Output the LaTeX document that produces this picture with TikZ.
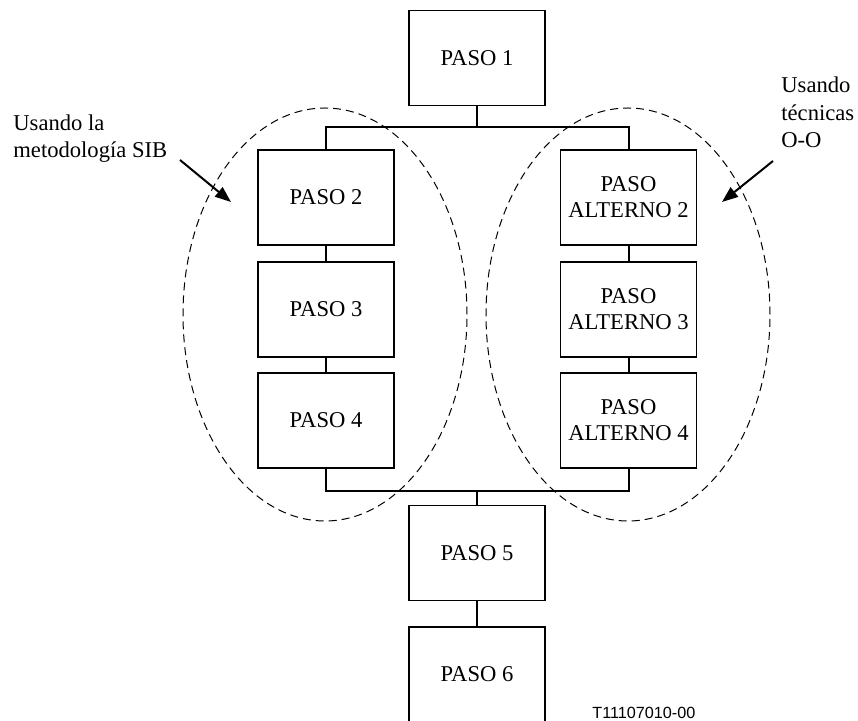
\documentclass[tikz,border=0pt]{standalone}
\usepackage{fontspec}
\setmainfont{Liberation Serif}
\newfontfamily\codefont{Liberation Sans}
\usetikzlibrary{arrows.meta}
\tikzset{
	stepbox/.style={draw,line width=0.6pt,minimum width=68pt,minimum height=47.5pt,inner sep=0pt,align=center,font=\fontsize{11.3}{13}\selectfont},
	link/.style={line width=1pt},
	group/.style={dash pattern=on 4pt off 2.5pt,line width=0.5pt},
	note/.style={align=left,inner sep=0pt,font=\fontsize{11.3}{13.9}\selectfont},
	pointer/.style={line width=1pt,-{Triangle[length=8pt,width=6pt]}}
}
\begin{document}
\begin{tikzpicture}[x=0.5pt,y=-0.5pt]
	\useasboundingbox (0,0) rectangle (858,721);
	\node [stepbox] (p1) at (477,58) {PASO 1};
	\node [stepbox] (p2) at (326,197.5) {PASO 2};
	\node [stepbox] (p3) at (326,309.5) {PASO 3};
	\node [stepbox] (p4) at (326,420.5) {PASO 4};
	\node [stepbox] (a2) at (628.5,197.5) {PASO\\ALTERNO 2};
	\node [stepbox] (a3) at (628.5,309.5) {PASO\\ALTERNO 3};
	\node [stepbox] (a4) at (628.5,420.5) {PASO\\ALTERNO 4};
	\node [stepbox] (p5) at (477,553) {PASO 5};
	\node [stepbox] (p6) at (477,674.5) {PASO 6};

	\coordinate (topbus) at (0,127);
	\coordinate (botbus) at (0,491);
	\draw [link] (p1.south) -- (p1.south |- topbus);
	\draw [link] (p2.north) |- (a2.north |- topbus) -- (a2.north);
	\draw [link] (p2) -- (p3);
	\draw [link] (p3) -- (p4);
	\draw [link] (a2) -- (a3);
	\draw [link] (a3) -- (a4);
	\draw [link] (p4.south) |- (a4.south |- botbus) -- (a4.south);
	\draw [link] (p5.north) -- (p5.north |- botbus);
	\draw [link] (p5) -- (p6);

	\draw [group] (325,314.5) ellipse [x radius=71pt,y radius=103.25pt];
	\draw [group] (628,314.5) ellipse [x radius=71pt,y radius=103.25pt];

	\node [note,anchor=base west] (sib) at (13,158) {Usando la\\metodología SIB};
	\node [note,anchor=base west] (oo) at (781,148) {Usando\\técnicas\\O-O};
	\coordinate (sibtail) at (180,160);
	\coordinate (sibtip) at (231,202);
	\coordinate (ootail) at (773,161);
	\coordinate (ootip) at (722,202);
	\draw [pointer] (sibtail) -- (sibtip);
	\draw [pointer] (ootail) -- (ootip);

	\node [anchor=base west,inner sep=0pt,font=\codefont\fontsize{8.1}{9}\selectfont] (code) at (592,719) {T11107010-00};
\end{tikzpicture}
\end{document}
